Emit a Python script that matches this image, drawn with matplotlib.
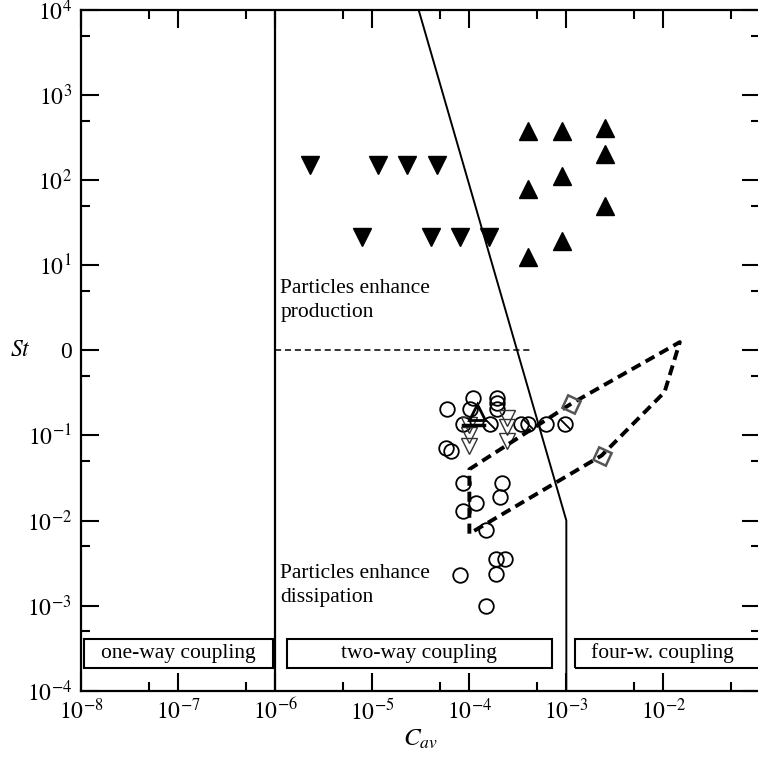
import numpy as np
import matplotlib
matplotlib.use("Agg")
from matplotlib import pyplot as plt
from matplotlib.patches import Rectangle
from matplotlib.ticker import FixedLocator, FuncFormatter

plt.rcParams["font.family"] = ["Liberation Serif", "DejaVu Serif"]
plt.rcParams["mathtext.fontset"] = "stix"

# regime boundaries
wall_x = [1e-6, 1e-6]
wall_y = [1e-4, 1e4]
diag_x = [3e-5, 1e-3, 1e-3]
diag_y = [1e4, 1e-2, 1e-4]
split_x = [1e-6, 4.2e-4]
split_y = [1.0, 1.0]

# filled triangles
down_x = [2.27e-6, 1.15e-5, 2.29e-5, 4.6e-5, 7.9e-6, 4.0e-5, 8.0e-5, 1.6e-4]
down_y = [150, 150, 150, 150, 21.5, 21.5, 21.5, 21.5]
up_x = [4.0e-4, 4.0e-4, 4.0e-4, 9.1e-4, 9.1e-4, 9.1e-4, 2.5e-3, 2.5e-3, 2.5e-3]
up_y = [380, 78, 12.5, 380, 111, 19.3, 412, 202, 49.4]

# open circles
circ_x = [5.9e-5, 1.08e-4, 1.94e-4, 1.01e-4, 1.91e-4, 1.91e-4, 8.6e-5, 3.4e-4,
          6.2e-4, 5.7e-5, 6.4e-5, 8.6e-5, 2.15e-4, 2.06e-4, 1.17e-4, 8.6e-5,
          1.5e-4, 1.88e-4, 2.32e-4, 8.0e-5, 1.88e-4, 1.5e-4]
circ_y = [0.206, 0.278, 0.278, 0.202, 0.202, 0.238, 0.137, 0.137,
          0.137, 0.0716, 0.0653, 0.0275, 0.0275, 0.0188, 0.016, 0.0129,
          7.8e-3, 3.54e-3, 3.54e-3, 2.32e-3, 2.38e-3, 1.0e-3]
slash_x = [1.63e-4, 4.0e-4, 9.7e-4]
slash_y = [0.137, 0.137, 0.137]

# open triangles
odown_x = [1.0e-4, 1.0e-4, 1.0e-4, 2.45e-4, 2.45e-4, 2.45e-4]
odown_y = [0.131, 0.1, 0.0743, 0.161, 0.125, 0.085]
oup_x = [1.19e-4]
oup_y = [0.188]
bar_x = [8.6e-5, 1.4e-4]
bar_y = [0.131, 0.131]

# dashed region and diamonds
poly_x = [1.0e-4, 1.0e-4, 1.13e-3, 1.48e-2, 1.03e-2, 2.31e-3, 1.0e-4]
poly_y = [7.0e-3, 0.04, 0.237, 1.25, 0.323, 0.058, 7.0e-3]
dia_x = [1.13e-3, 2.31e-3]
dia_y = [0.237, 0.058]

fig = plt.figure(figsize=(7.58, 7.57), dpi=100)
ax = fig.add_axes([0.1075, 0.0876, 0.8955, 0.8992])
ax.set_xscale("log")
ax.set_yscale("log")
ax.set_xlim(1e-8, 1e-1)
ax.set_ylim(1e-4, 1e4)

ax.plot(wall_x, wall_y, color="k", lw=1.6)
ax.plot(diag_x, diag_y, color="k", lw=1.4)
ax.plot(split_x, split_y, color="k", lw=1.1, ls=(0, (4, 2.5)))

ax.plot(down_x, down_y, "v", color="k", ms=13, ls="none")
ax.plot(up_x, up_y, "^", color="k", ms=13, ls="none")

ax.plot(circ_x, circ_y, "o", mfc="none", mec="k", mew=1.3, ms=10.5, ls="none")
ax.plot(slash_x, slash_y, "o", mfc="none", mec="k", mew=1.3, ms=10.5, ls="none")
ax.plot(slash_x, slash_y, marker=[(-1, 1), (1, -1)], mec="k", mew=1.3, ms=7, ls="none")
ax.plot(odown_x, odown_y, "v", mfc="none", mec="#333333", mew=1.0, ms=11, ls="none")
ax.plot(oup_x, oup_y, "^", mfc="none", mec="k", mew=2.0, ms=11, ls="none")
ax.plot(bar_x, bar_y, color="k", lw=2.5)

ax.plot(poly_x, poly_y, color="k", lw=2.8, ls=(0, (2.6, 1.5)))
ax.plot(dia_x, dia_y, marker=(4, 0, 20), mfc="none", mec="#555555", mew=1.8,
        ms=14, ls="none")

ax.text(1.12e-6, 3.87, "Particles enhance\nproduction", fontsize=15.5,
        ha="left", va="center", linespacing=1.4)
ax.text(1.12e-6, 1.72e-3, "Particles enhance\ndissipation", fontsize=15.5,
        ha="left", va="center", linespacing=1.4)

boxes = [(1.07e-8, 9.4e-7, 1e-7, "one-way coupling"),
         (1.31e-6, 7.05e-4, 3.05e-5, "two-way coupling"),
         (1.22e-3, 0.5, 9.7e-3, "four-w. coupling")]
for x0, x1, xc, label in boxes:
    ax.add_patch(Rectangle((x0, 1.87e-4), x1 - x0, 4.09e-4 - 1.87e-4,
                           fill=False, ec="k", lw=1.5))
    ax.text(xc, 2.76e-4, label, fontsize=15.5, ha="center", va="center")

def fmt(v, pos):
    k = int(round(np.log10(v)))
    if k == 0:
        return "0"
    return r"$10^{%d}$" % k

ax.xaxis.set_major_locator(FixedLocator([10.0 ** k for k in range(-8, -1)]))
ax.xaxis.set_minor_locator(FixedLocator([5 * 10.0 ** k for k in range(-9, -1)]))
ax.yaxis.set_major_locator(FixedLocator([10.0 ** k for k in range(-4, 5)]))
ax.yaxis.set_minor_locator(FixedLocator([5 * 10.0 ** k for k in range(-5, 4)]))
ax.xaxis.set_major_formatter(FuncFormatter(fmt))
ax.yaxis.set_major_formatter(FuncFormatter(fmt))
ax.xaxis.set_minor_formatter(FuncFormatter(lambda v, p: ""))
ax.yaxis.set_minor_formatter(FuncFormatter(lambda v, p: ""))

ax.tick_params(which="both", direction="in", top=True, right=True,
               width=1.5, labelsize=17)
ax.tick_params(which="major", length=13)
ax.tick_params(which="minor", length=6.5)
ax.tick_params(axis="y", pad=7)
ax.tick_params(axis="x", pad=6)
for s in ax.spines.values():
    s.set_linewidth(1.6)

ax.set_xlabel(r"$C_{av}$", fontsize=18, labelpad=2)
ax.set_ylabel(r"$St$", fontsize=17, rotation=0, va="center", ha="center")
ax.yaxis.set_label_coords(-0.09, 0.5)

fig.savefig("out.png", dpi=100)
